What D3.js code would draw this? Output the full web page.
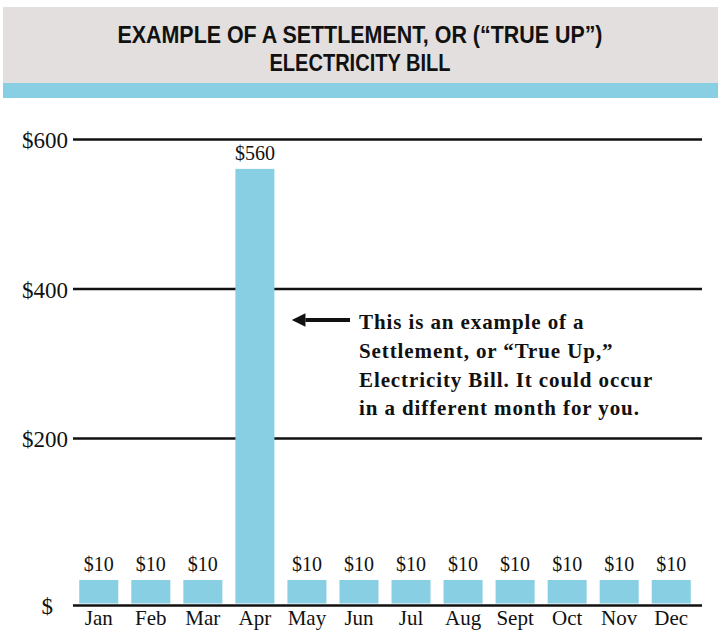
<!DOCTYPE html>
<html>
<head>
<meta charset="utf-8">
<script src="https://cdn.jsdelivr.net/npm/d3@7"></script>
<style>
  body { margin: 0; background: #fff; }
  text { fill: #111; }
</style>
</head>
<body>
<div id="chart"></div>
<script>
// chart data
var months = ["Jan", "Feb", "Mar", "Apr", "May", "Jun", "Jul", "Aug", "Sept", "Oct", "Nov", "Dec"];
var bills = [10, 10, 10, 560, 10, 10, 10, 10, 10, 10, 10, 10];
var yTicks = [0, 200, 400, 600];
var yTickLabels = ["$", "$200", "$400", "$600"];
var titleLines = ["EXAMPLE OF A SETTLEMENT, OR (\u201CTRUE UP\u201D)", "ELECTRICITY BILL"];
var noteLines = ["This is an example of a", "Settlement, or \u201CTrue Up,\u201D",
  "Electricity Bill. It could occur", "in a different month for you."];

var svgWidth = 721;
var svgHeight = 631;
var barColor = "#89cfe4";

var svg = d3.select("#chart")
  .append("svg")
  .attr("width", svgWidth)
  .attr("height", svgHeight);

// header
svg.append("rect")
  .attr("x", 3).attr("y", 7)
  .attr("width", 715).attr("height", 76)
  .attr("fill", "#e2dfde");
svg.append("rect")
  .attr("x", 3).attr("y", 83)
  .attr("width", 715).attr("height", 15)
  .attr("fill", barColor);

var titleWidths = [485, 181];
svg.selectAll("text.title")
  .data(titleLines)
  .enter()
  .append("text")
  .classed("title", true)
  .attr("x", 360)
  .attr("y", (d, i) => 43 + i * 28)
  .attr("text-anchor", "middle")
  .attr("textLength", (d, i) => titleWidths[i])
  .attr("lengthAdjust", "spacingAndGlyphs")
  .style("font-family", "'Liberation Sans', Arial, sans-serif")
  .style("font-weight", "bold")
  .style("font-size", "24px")
  .text(d => d);

// scales - the picture is not drawn to scale at the bottom, so the
// first $10 gets a stretched segment
var xScale = d3.scaleBand()
  .domain(months)
  .range([73, 697])
  .paddingInner(0.25)
  .paddingOuter(0.12);

var yScale = d3.scaleLinear()
  .domain([0, 10, 600])
  .range([605, 580, 139]);

// y axis + gridlines
var yAxis = d3.axisLeft(yScale)
  .tickValues(yTicks)
  .tickSize(-(702 - 73))
  .tickPadding(5)
  .tickFormat((d, i) => yTickLabels[i]);

var yAxisG = svg.append("g")
  .attr("transform", "translate(73, 0)")
  .call(yAxis);
yAxisG.select(".domain").remove();
yAxisG.selectAll(".tick line")
  .attr("stroke", "#111")
  .attr("stroke-width", 2.5);
yAxisG.selectAll(".tick text")
  .style("font-family", "'Liberation Serif', 'Times New Roman', serif")
  .style("font-size", "23px")
  .attr("fill", "#111")
  .attr("dy", "0.38em")
  .attr("dx", d => d === 0 ? -15 : 0);

// bars
svg.selectAll("rect.bar")
  .data(bills)
  .enter()
  .append("rect")
  .classed("bar", true)
  .attr("x", (d, i) => xScale(months[i]))
  .attr("y", d => yScale(d))
  .attr("width", xScale.bandwidth())
  .attr("height", d => yScale(0) - 1.5 - yScale(d))
  .attr("fill", barColor);

svg.selectAll("text.bar-label")
  .data(bills)
  .enter()
  .append("text")
  .classed("bar-label", true)
  .attr("x", (d, i) => xScale(months[i]) + xScale.bandwidth() / 2)
  .attr("y", d => yScale(d) - 9)
  .attr("text-anchor", "middle")
  .style("font-family", "'Liberation Serif', 'Times New Roman', serif")
  .style("font-size", "20px")
  .text(d => "$" + d);

// x axis (month names)
var xAxis = d3.axisBottom(xScale)
  .tickSize(0)
  .tickPadding(5);

var xAxisG = svg.append("g")
  .attr("transform", `translate(0, ${yScale(0)})`)
  .call(xAxis);
xAxisG.select(".domain").remove();
xAxisG.selectAll(".tick text")
  .style("font-family", "'Liberation Serif', 'Times New Roman', serif")
  .style("font-size", "21px")
  .attr("fill", "#111");

// annotation arrow + note
var defs = svg.append("defs");
defs.append("marker")
  .attr("id", "arrowhead")
  .attr("viewBox", "0 0 10 10")
  .attr("refX", 0)
  .attr("refY", 5)
  .attr("markerWidth", 3.6)
  .attr("markerHeight", 3.4)
  .attr("orient", "auto-start-reverse")
  .append("path")
  .attr("d", "M0,0 L10,5 L0,10 Z")
  .attr("fill", "#111");

var aprRight = xScale("Apr") + xScale.bandwidth();
svg.append("line")
  .attr("x1", 350)
  .attr("x2", aprRight + 31)
  .attr("y1", 320)
  .attr("y2", 320)
  .attr("stroke", "#111")
  .attr("stroke-width", 4)
  .attr("marker-end", "url(#arrowhead)");

svg.selectAll("text.note")
  .data(noteLines)
  .enter()
  .append("text")
  .classed("note", true)
  .attr("x", 359)
  .attr("y", (d, i) => 329 + i * 28.8)
  .style("font-family", "'Liberation Serif', 'Times New Roman', serif")
  .style("font-weight", "bold")
  .style("font-size", "21px")
  .style("letter-spacing", "0.9px")
  .text(d => d);
</script>
</body>
</html>
